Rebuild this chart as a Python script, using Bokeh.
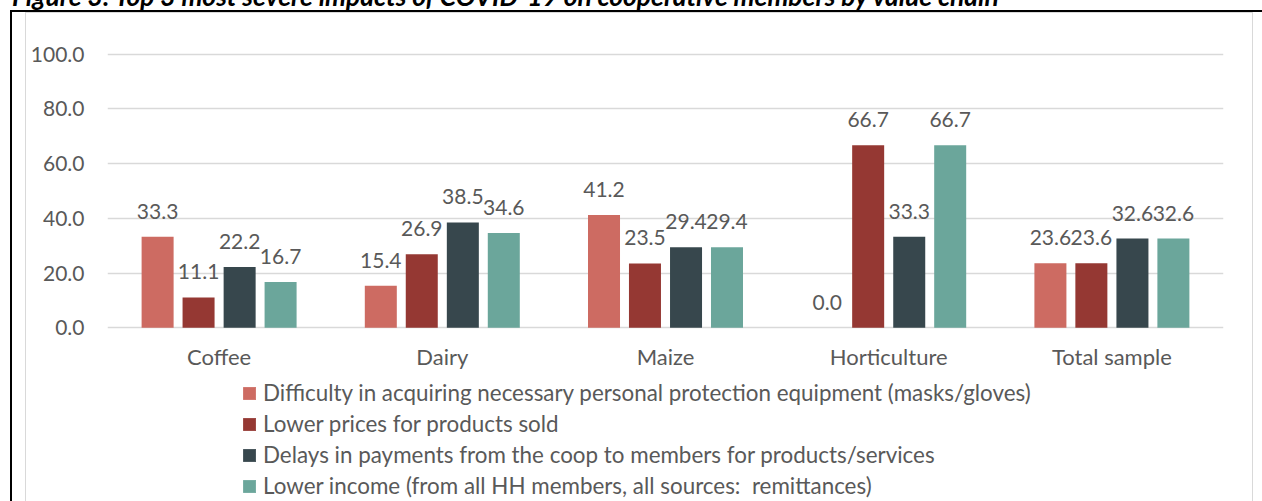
from bokeh.plotting import figure
from bokeh.models import (ColumnDataSource, FactorRange, Range1d, FixedTicker, NumeralTickFormatter,
                          Legend, LegendItem, LabelSet, Div)
from bokeh.layouts import column
from bokeh.core.properties import value
from bokeh.transform import dodge
from bokeh.embed import file_html
from bokeh.resources import INLINE

# ---- data ----
categories = ["Coffee", "Dairy", "Maize", "Horticulture", "Total sample"]
ppe = [33.3, 15.4, 41.2, 0.0, 23.6]
lower_prices = [11.1, 26.9, 23.5, 66.7, 23.6]
payment_delays = [22.2, 38.5, 29.4, 33.3, 32.6]
lower_income = [16.7, 34.6, 29.4, 66.7, 32.6]
series_names = [
    "Difficulty in acquiring necessary personal protection equipment (masks/gloves)",
    "Lower prices for products sold",
    "Delays in payments from the coop to members for products/services",
    "Lower income (from all HH members, all sources:  remittances)",
]
y_ticks = [0, 20, 40, 60, 80, 100]
title_text = "Figure 3: Top 3 most severe impacts of COVID-19 on cooperative members by value chain"

colors = ["#CD6B62", "#953833", "#37474D", "#6BA69B"]
offsets = [-0.2755, -0.092, 0.092, 0.2755]
series = [ppe, lower_prices, payment_delays, lower_income]
keys = ["s0", "s1", "s2", "s3"]

data = {"cat": categories}
for k, s in zip(keys, series):
    data[k] = s
    data[k + "_lbl"] = ["%.1f" % v for v in s]
src = ColumnDataSource(data)

FONT = "Lato"
TXT = "#595959"

# ---- main chart ----
p = figure(x_range=FactorRange(*categories, range_padding=0), y_range=Range1d(-1, 101),
           width=1262, height=368, output_backend="svg", toolbar_location=None,
           min_border_left=107, min_border_right=39, min_border_top=41, min_border_bottom=48)
p.outline_line_color = None
p.background_fill_color = "white"
p.border_fill_color = None

for k, c, off in zip(keys, colors, offsets):
    p.vbar(x=dodge("cat", off, range=p.x_range), top=k, width=0.1434, source=src,
           fill_color=c, line_color=None)
    p.add_layout(LabelSet(x=dodge("cat", off, range=p.x_range), y=k, text=k + "_lbl", source=src,
                          text_align="center", text_baseline="alphabetic", y_offset=18,
                          text_font=value(FONT), text_font_size="21px", text_color=TXT))

p.yaxis.ticker = FixedTicker(ticks=y_ticks)
p.yaxis.formatter = NumeralTickFormatter(format="0.0")
for ax in (p.xaxis[0], p.yaxis[0]):
    ax.axis_line_color = None
    ax.major_tick_line_color = None
    ax.minor_tick_line_color = None
    ax.major_tick_out = 0
    ax.major_tick_in = 0
    ax.minor_tick_out = 0
    ax.major_label_text_font = FONT
    ax.major_label_text_color = TXT
p.yaxis.major_label_text_font_size = "21px"
p.xaxis.major_label_text_font_size = "22px"
p.yaxis.major_label_standoff = 23
p.xaxis.major_label_standoff = 12
p.xgrid.grid_line_color = None
p.ygrid.grid_line_color = "#D9D9D9"
p.ygrid.grid_line_width = 1.5

# ---- legend strip (swatch renderers built from the same data, kept hidden) ----
lg = figure(x_range=FactorRange(*categories, range_padding=0), y_range=Range1d(0, 100),
            width=1262, height=123, output_backend="svg", toolbar_location=None,
            min_border_left=0, min_border_right=0, min_border_top=0, min_border_bottom=0)
lg.axis.visible = False
lg.grid.visible = False
lg.outline_line_color = None
lg.background_fill_color = None
lg.border_fill_color = None
swatches = []
for k, c, off in zip(keys, colors, offsets):
    r = lg.vbar(x=dodge("cat", off, range=lg.x_range), top=k, width=0.1434, source=src,
                fill_color=c, line_color=None)
    r.visible = False
    swatches.append(r)
legend = Legend(items=[LegendItem(label=n, renderers=[r]) for n, r in zip(series_names, swatches)],
                location=(134, 2), orientation="vertical",
                label_text_font=FONT, label_text_font_size="22.4px", label_text_color=TXT,
                glyph_width=16, glyph_height=16, label_height=24, label_standoff=6,
                spacing=4, padding=0, margin=0, border_line_color=None,
                background_fill_alpha=0)
lg.add_layout(legend, "center")

# ---- title (cut off at the top, as in the source document) ----
title = Div(text='<span style="position:relative; left:12px; top:-17.5px; white-space:nowrap; '
                 'font-family:Lato; font-weight:bold; font-style:italic; font-size:26.4px; '
                 'line-height:26.4px; color:black;">' + title_text + '</span>',
            width=1262, height=10, margin=0)

bg = ", ".join([
    "linear-gradient(#000,#000) 10px 10px / 1252px 2px no-repeat",
    "linear-gradient(#000,#000) 10px 10px / 2px 491px no-repeat",
    "linear-gradient(#D9D9D9,#D9D9D9) 25px 12px / 1228px 1px no-repeat",
    "linear-gradient(#D9D9D9,#D9D9D9) 25px 12px / 1px 489px no-repeat",
    "linear-gradient(#D9D9D9,#D9D9D9) 1252px 12px / 1px 489px no-repeat",
])
layout = column(title, p, lg, spacing=0)
layout.styles = {"background": bg}

open("out.html", "w").write(file_html(layout, INLINE))
